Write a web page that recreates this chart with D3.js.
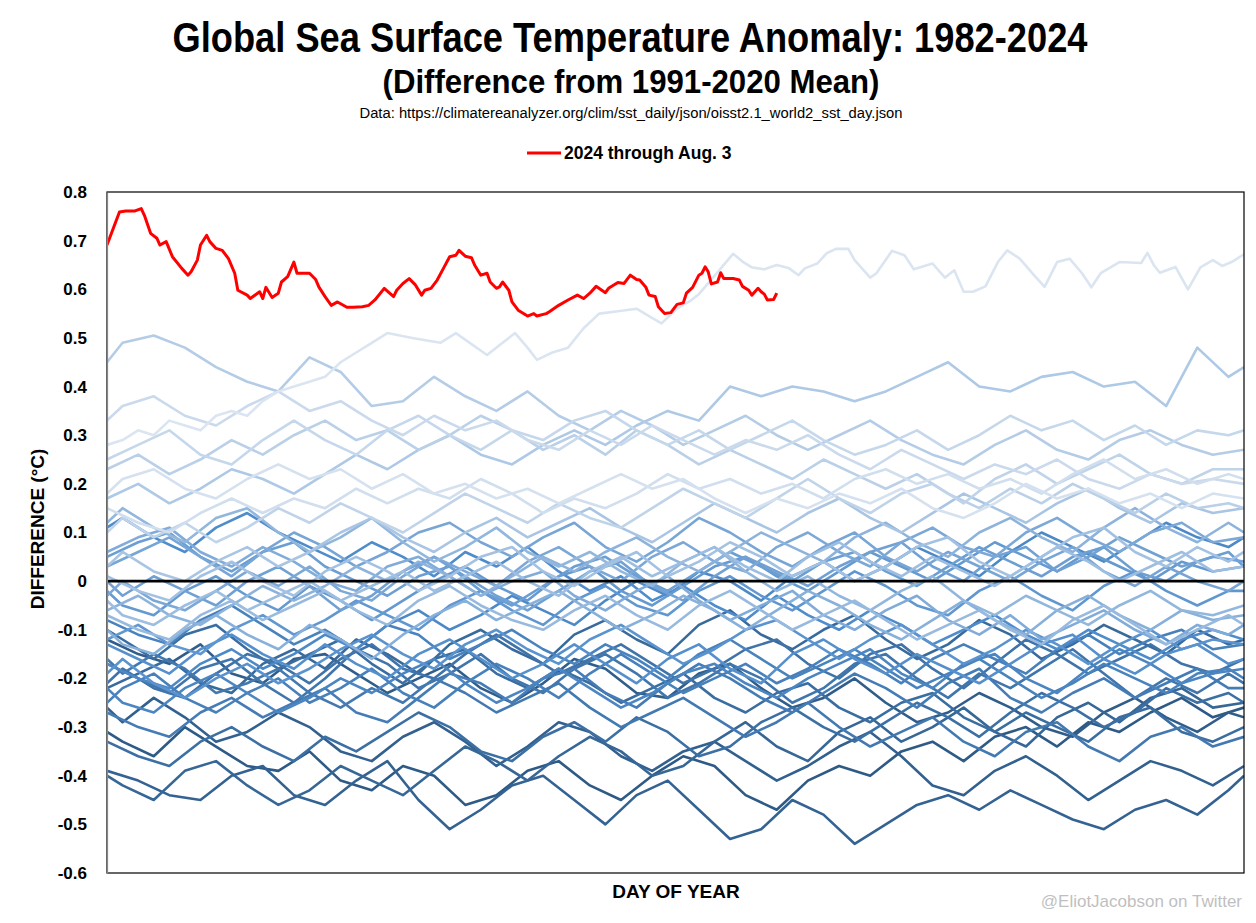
<!DOCTYPE html>
<html>
<head>
<meta charset="utf-8">
<script src="https://cdn.jsdelivr.net/npm/d3@7"></script>
<style>
  body { margin: 0; background: #fff; }
  svg text { font-family: "Liberation Sans", Arial, sans-serif; }
</style>
</head>
<body>
<div id="maindiv"></div>
<script>
// ---------- data ----------
// two day grids, offset by 5 days, so the yearly traces don't all turn on the same days
var daysA = [1,11,21,31,41,51,61,71,81,91,101,111,121,131,141,151,161,171,181,191,201,211,221,231,241,251,261,271,281,291,301,311,321,331,341,351,361,366];
var daysB = [1,6,16,26,36,46,56,66,76,86,96,106,116,126,136,146,156,166,176,186,196,206,216,226,236,246,256,266,276,286,296,306,316,326,336,346,356,366];

var sst1982 = [-0.31,-0.33,-0.36,-0.30,-0.34,-0.38,-0.39,-0.35,-0.41,-0.43,-0.38,-0.40,-0.46,-0.44,-0.39,-0.37,-0.42,-0.45,-0.40,-0.36,-0.38,-0.44,-0.47,-0.41,-0.38,-0.40,-0.35,-0.33,-0.37,-0.32,-0.30,-0.34,-0.29,-0.31,-0.27,-0.24,-0.28,-0.26];
var sst1983 = [-0.12,-0.15,-0.17,-0.13,-0.19,-0.21,-0.16,-0.15,-0.19,-0.23,-0.20,-0.17,-0.22,-0.25,-0.21,-0.16,-0.18,-0.23,-0.24,-0.19,-0.17,-0.22,-0.26,-0.24,-0.20,-0.25,-0.29,-0.27,-0.23,-0.26,-0.30,-0.32,-0.27,-0.24,-0.28,-0.31,-0.27,-0.28];
var sst1984 = [-0.26,-0.29,-0.24,-0.28,-0.33,-0.31,-0.27,-0.30,-0.35,-0.37,-0.32,-0.29,-0.33,-0.38,-0.34,-0.29,-0.31,-0.36,-0.39,-0.35,-0.33,-0.37,-0.41,-0.38,-0.34,-0.31,-0.36,-0.42,-0.44,-0.39,-0.36,-0.40,-0.45,-0.41,-0.37,-0.39,-0.42,-0.38];
var sst1985 = [-0.39,-0.41,-0.44,-0.45,-0.40,-0.38,-0.44,-0.46,-0.41,-0.37,-0.45,-0.51,-0.47,-0.42,-0.40,-0.45,-0.50,-0.44,-0.41,-0.47,-0.53,-0.51,-0.45,-0.48,-0.54,-0.50,-0.46,-0.44,-0.47,-0.43,-0.46,-0.49,-0.51,-0.47,-0.45,-0.48,-0.43,-0.40];
var sst1986 = [-0.40,-0.42,-0.45,-0.39,-0.37,-0.42,-0.46,-0.43,-0.38,-0.41,-0.44,-0.39,-0.34,-0.37,-0.41,-0.36,-0.32,-0.35,-0.40,-0.38,-0.33,-0.29,-0.34,-0.37,-0.31,-0.28,-0.33,-0.30,-0.26,-0.31,-0.34,-0.28,-0.25,-0.29,-0.24,-0.22,-0.26,-0.25];
var sst1987 = [-0.22,-0.19,-0.16,-0.21,-0.23,-0.17,-0.14,-0.18,-0.12,-0.15,-0.19,-0.13,-0.10,-0.14,-0.17,-0.11,-0.08,-0.12,-0.15,-0.09,-0.06,-0.11,-0.14,-0.10,-0.07,-0.12,-0.16,-0.13,-0.08,-0.11,-0.16,-0.13,-0.09,-0.12,-0.15,-0.10,-0.13,-0.12];
var sst1988 = [-0.10,-0.12,-0.16,-0.11,-0.09,-0.14,-0.18,-0.15,-0.12,-0.17,-0.21,-0.16,-0.14,-0.19,-0.22,-0.18,-0.21,-0.25,-0.22,-0.19,-0.24,-0.27,-0.23,-0.21,-0.26,-0.29,-0.25,-0.23,-0.28,-0.31,-0.27,-0.30,-0.33,-0.28,-0.26,-0.31,-0.33,-0.30];
var sst1989 = [-0.33,-0.36,-0.38,-0.33,-0.30,-0.34,-0.37,-0.32,-0.35,-0.31,-0.27,-0.30,-0.35,-0.37,-0.32,-0.29,-0.33,-0.28,-0.31,-0.36,-0.34,-0.29,-0.26,-0.30,-0.33,-0.29,-0.25,-0.28,-0.32,-0.27,-0.23,-0.26,-0.30,-0.27,-0.22,-0.25,-0.23,-0.25];
var sst1990 = [-0.21,-0.18,-0.22,-0.24,-0.19,-0.15,-0.17,-0.21,-0.16,-0.13,-0.18,-0.20,-0.15,-0.11,-0.15,-0.19,-0.16,-0.13,-0.17,-0.21,-0.18,-0.14,-0.12,-0.17,-0.20,-0.15,-0.13,-0.18,-0.22,-0.17,-0.12,-0.15,-0.19,-0.16,-0.13,-0.17,-0.19,-0.16];
var sst1991 = [-0.17,-0.20,-0.23,-0.18,-0.16,-0.21,-0.25,-0.20,-0.14,-0.17,-0.22,-0.19,-0.15,-0.20,-0.23,-0.18,-0.15,-0.19,-0.24,-0.21,-0.17,-0.20,-0.25,-0.22,-0.17,-0.15,-0.20,-0.24,-0.19,-0.22,-0.18,-0.14,-0.19,-0.24,-0.20,-0.23,-0.19,-0.21];
var sst1992 = [-0.16,-0.19,-0.15,-0.18,-0.23,-0.21,-0.18,-0.23,-0.26,-0.22,-0.25,-0.20,-0.23,-0.27,-0.24,-0.21,-0.26,-0.30,-0.27,-0.24,-0.28,-0.32,-0.29,-0.25,-0.30,-0.34,-0.31,-0.28,-0.33,-0.36,-0.31,-0.29,-0.34,-0.37,-0.32,-0.30,-0.34,-0.32];
var sst1993 = [-0.27,-0.30,-0.32,-0.27,-0.24,-0.28,-0.25,-0.22,-0.27,-0.29,-0.24,-0.19,-0.21,-0.25,-0.20,-0.18,-0.23,-0.26,-0.21,-0.17,-0.20,-0.24,-0.27,-0.23,-0.19,-0.22,-0.26,-0.21,-0.18,-0.24,-0.27,-0.23,-0.20,-0.24,-0.21,-0.18,-0.22,-0.22];
var sst1994 = [-0.25,-0.22,-0.19,-0.24,-0.27,-0.23,-0.20,-0.25,-0.22,-0.18,-0.23,-0.26,-0.21,-0.17,-0.20,-0.24,-0.19,-0.15,-0.19,-0.23,-0.20,-0.17,-0.21,-0.18,-0.14,-0.17,-0.21,-0.16,-0.13,-0.16,-0.19,-0.14,-0.11,-0.15,-0.12,-0.10,-0.14,-0.13];
var sst1995 = [-0.08,-0.11,-0.13,-0.08,-0.05,-0.09,-0.13,-0.10,-0.14,-0.09,-0.11,-0.16,-0.13,-0.10,-0.14,-0.17,-0.13,-0.16,-0.20,-0.15,-0.12,-0.16,-0.20,-0.17,-0.14,-0.18,-0.22,-0.19,-0.16,-0.20,-0.24,-0.21,-0.17,-0.20,-0.23,-0.19,-0.18,-0.20];
var sst1996 = [-0.22,-0.25,-0.27,-0.22,-0.19,-0.23,-0.27,-0.24,-0.20,-0.23,-0.19,-0.16,-0.21,-0.25,-0.22,-0.18,-0.22,-0.26,-0.23,-0.19,-0.17,-0.21,-0.24,-0.20,-0.17,-0.14,-0.19,-0.22,-0.17,-0.15,-0.20,-0.23,-0.18,-0.14,-0.17,-0.21,-0.19,-0.18];
var sst1997 = [-0.17,-0.20,-0.22,-0.17,-0.14,-0.18,-0.15,-0.11,-0.14,-0.09,-0.06,-0.10,-0.07,-0.03,-0.06,-0.09,-0.04,0.00,-0.03,0.02,0.00,-0.04,0.01,0.04,0.00,0.03,0.07,0.04,0.01,0.06,0.10,0.07,0.04,0.08,0.12,0.09,0.07,0.09];
var sst1998 = [0.11,0.13,0.09,0.06,0.11,0.14,0.10,0.07,0.04,0.08,0.05,0.01,0.06,0.03,0.07,0.02,-0.02,0.01,-0.04,-0.01,-0.05,-0.08,-0.03,-0.07,-0.10,-0.06,-0.09,-0.13,-0.10,-0.07,-0.11,-0.14,-0.10,-0.13,-0.16,-0.12,-0.10,-0.12];
var sst1999 = [-0.13,-0.16,-0.19,-0.14,-0.11,-0.15,-0.18,-0.13,-0.17,-0.20,-0.15,-0.12,-0.16,-0.20,-0.17,-0.13,-0.17,-0.21,-0.16,-0.13,-0.18,-0.21,-0.15,-0.12,-0.16,-0.19,-0.15,-0.18,-0.21,-0.17,-0.13,-0.11,-0.16,-0.19,-0.15,-0.13,-0.17,-0.16];
var sst2000 = [-0.19,-0.16,-0.21,-0.24,-0.20,-0.17,-0.21,-0.18,-0.14,-0.11,-0.15,-0.18,-0.13,-0.10,-0.14,-0.17,-0.12,-0.09,-0.13,-0.17,-0.14,-0.10,-0.08,-0.12,-0.16,-0.12,-0.09,-0.13,-0.17,-0.14,-0.10,-0.13,-0.17,-0.13,-0.10,-0.14,-0.12,-0.13];
var sst2001 = [-0.12,-0.09,-0.13,-0.15,-0.10,-0.07,-0.11,-0.08,-0.04,-0.07,-0.10,-0.05,-0.02,-0.06,-0.09,-0.04,-0.01,-0.05,-0.07,-0.02,0.01,-0.03,-0.06,-0.02,0.02,-0.01,-0.05,-0.07,-0.02,0.01,-0.03,-0.06,-0.01,0.02,-0.02,-0.05,-0.02,-0.02];
var sst2002 = [-0.02,-0.05,-0.07,-0.02,0.01,-0.03,-0.06,-0.01,-0.04,-0.08,-0.04,0.00,0.03,-0.01,-0.04,0.01,0.03,-0.02,-0.05,-0.01,0.03,0.05,0.01,-0.02,0.02,0.06,0.03,0.00,0.04,0.08,0.05,0.02,0.06,0.03,0.00,0.04,0.02,0.03];
var sst2003 = [0.05,0.08,0.10,0.05,0.02,0.06,0.08,0.03,0.00,-0.03,0.01,0.03,-0.02,-0.05,-0.01,0.03,0.05,0.01,-0.02,0.02,0.06,0.03,0.00,0.04,0.06,0.02,-0.01,0.03,0.07,0.04,0.01,0.05,0.07,0.02,0.00,0.04,0.06,0.03];
var sst2004 = [0.00,-0.03,0.01,-0.02,-0.05,0.00,0.03,-0.01,-0.06,-0.03,0.02,0.05,0.01,-0.03,-0.06,-0.02,0.02,0.04,-0.01,-0.04,0.01,0.05,0.02,-0.01,0.03,0.06,0.08,0.03,0.00,0.05,0.07,0.02,0.05,0.09,0.06,0.03,0.05,0.04];
var sst2005 = [0.03,0.06,0.09,0.05,0.01,0.06,0.10,0.07,0.03,0.06,0.10,0.12,0.08,0.05,0.09,0.12,0.07,0.04,0.08,0.13,0.10,0.06,0.03,0.07,0.10,0.05,0.02,0.06,0.03,0.00,0.04,0.07,0.02,-0.01,0.03,0.00,-0.02,0.00];
var sst2006 = [-0.03,0.00,-0.04,-0.06,-0.02,0.02,-0.01,0.03,-0.02,-0.04,0.01,0.05,0.02,-0.01,0.04,0.07,0.03,0.00,0.05,0.08,0.04,0.02,0.07,0.10,0.06,0.03,0.08,0.11,0.07,0.05,0.10,0.13,0.09,0.06,0.10,0.12,0.08,0.09];
var sst2007 = [0.06,0.09,0.11,0.06,0.03,0.07,0.04,0.00,-0.02,0.03,0.05,0.01,-0.03,0.00,0.02,-0.03,-0.06,-0.02,0.01,-0.04,-0.08,-0.05,-0.02,-0.07,-0.10,-0.06,-0.03,-0.08,-0.11,-0.07,-0.12,-0.09,-0.06,-0.10,-0.13,-0.09,-0.11,-0.09];
var sst2008 = [-0.10,-0.13,-0.15,-0.10,-0.07,-0.11,-0.14,-0.09,-0.12,-0.16,-0.11,-0.07,-0.04,-0.08,-0.05,-0.02,-0.06,-0.10,-0.07,-0.03,-0.06,-0.10,-0.06,-0.02,-0.05,-0.09,-0.12,-0.08,-0.04,-0.08,-0.11,-0.06,-0.03,-0.07,-0.10,-0.06,-0.08,-0.07];
var sst2009 = [-0.06,-0.03,-0.07,-0.09,-0.05,-0.01,-0.04,-0.01,0.03,0.00,0.04,0.01,-0.03,0.01,0.05,0.02,0.06,0.09,0.05,0.02,0.06,0.10,0.07,0.04,0.09,0.12,0.08,0.05,0.10,0.13,0.09,0.06,0.11,0.15,0.11,0.08,0.12,0.10];
var sst2010 = [0.12,0.15,0.11,0.08,0.13,0.15,0.10,0.06,0.09,0.13,0.08,0.04,0.07,0.11,0.06,0.03,0.06,0.02,-0.01,0.04,0.07,0.02,-0.02,0.01,-0.03,-0.06,-0.02,0.01,-0.04,-0.07,-0.03,-0.06,-0.09,-0.05,-0.02,-0.06,-0.07,-0.05];
var sst2011 = [-0.07,-0.10,-0.12,-0.07,-0.04,-0.08,-0.05,-0.02,-0.06,-0.09,-0.04,-0.01,-0.05,-0.08,-0.10,-0.06,-0.03,-0.07,-0.10,-0.05,-0.02,-0.06,-0.10,-0.07,-0.04,-0.08,-0.12,-0.09,-0.06,-0.10,-0.13,-0.08,-0.05,-0.09,-0.13,-0.10,-0.07,-0.09];
var sst2012 = [-0.04,-0.07,-0.09,-0.05,-0.02,-0.06,-0.03,0.00,-0.04,-0.01,0.02,-0.02,0.01,0.04,0.00,-0.03,0.02,0.05,0.01,0.04,0.07,0.03,0.00,0.05,0.08,0.04,0.01,0.05,0.02,-0.01,0.03,0.07,0.04,0.00,0.03,0.06,0.02,0.03];
var sst2013 = [0.01,-0.02,-0.04,0.01,0.04,0.00,-0.03,0.02,0.05,0.02,-0.02,0.01,0.05,0.07,0.02,-0.01,0.03,0.06,0.01,0.04,0.08,0.05,0.01,0.04,0.00,0.03,0.07,0.09,0.04,0.01,0.05,0.09,0.11,0.06,0.03,0.07,0.04,0.06];
var sst2014 = [0.03,0.06,0.02,0.00,0.04,0.07,0.03,0.06,0.10,0.13,0.09,0.06,0.10,0.13,0.09,0.12,0.15,0.11,0.08,0.12,0.16,0.13,0.10,0.14,0.17,0.13,0.10,0.14,0.18,0.15,0.12,0.16,0.19,0.15,0.12,0.16,0.14,0.15];
var sst2015 = [0.17,0.20,0.16,0.19,0.23,0.21,0.18,0.22,0.26,0.23,0.27,0.30,0.26,0.24,0.28,0.31,0.28,0.32,0.35,0.33,0.40,0.38,0.40,0.39,0.37,0.39,0.42,0.45,0.40,0.39,0.42,0.43,0.40,0.41,0.36,0.48,0.42,0.44];
var sst2016 = [0.45,0.49,0.505,0.48,0.44,0.41,0.39,0.46,0.43,0.36,0.37,0.42,0.38,0.35,0.39,0.34,0.31,0.35,0.32,0.28,0.31,0.34,0.30,0.27,0.30,0.33,0.29,0.26,0.24,0.28,0.31,0.27,0.25,0.29,0.31,0.28,0.26,0.27];
var sst2017 = [0.23,0.26,0.22,0.25,0.29,0.26,0.30,0.33,0.29,0.31,0.27,0.30,0.34,0.31,0.27,0.30,0.26,0.31,0.28,0.24,0.27,0.24,0.21,0.25,0.22,0.19,0.22,0.18,0.15,0.19,0.16,0.20,0.17,0.14,0.18,0.15,0.16,0.15];
var sst2018 = [0.10,0.13,0.09,0.12,0.08,0.11,0.15,0.12,0.16,0.13,0.10,0.14,0.18,0.15,0.12,0.16,0.13,0.11,0.15,0.19,0.16,0.13,0.17,0.21,0.17,0.14,0.18,0.20,0.16,0.21,0.24,0.20,0.23,0.26,0.22,0.20,0.23,0.23];
var sst2019 = [0.25,0.28,0.31,0.26,0.24,0.29,0.33,0.29,0.26,0.31,0.34,0.30,0.27,0.31,0.29,0.33,0.35,0.31,0.28,0.31,0.27,0.30,0.33,0.29,0.26,0.28,0.31,0.27,0.30,0.34,0.31,0.33,0.29,0.32,0.28,0.31,0.30,0.31];
var sst2020 = [0.33,0.36,0.38,0.34,0.32,0.36,0.39,0.35,0.37,0.33,0.30,0.34,0.31,0.33,0.29,0.27,0.31,0.28,0.32,0.29,0.26,0.29,0.27,0.30,0.26,0.23,0.27,0.24,0.21,0.24,0.22,0.25,0.21,0.19,0.22,0.20,0.21,0.20];
var sst2021 = [0.15,0.12,0.10,0.14,0.17,0.14,0.17,0.15,0.19,0.16,0.19,0.17,0.21,0.18,0.14,0.17,0.15,0.18,0.22,0.19,0.21,0.18,0.20,0.17,0.21,0.23,0.20,0.22,0.19,0.21,0.18,0.22,0.25,0.21,0.23,0.20,0.22,0.21];
var sst2022 = [0.18,0.21,0.23,0.19,0.17,0.21,0.24,0.21,0.23,0.19,0.22,0.18,0.20,0.17,0.19,0.16,0.19,0.22,0.19,0.21,0.17,0.14,0.17,0.15,0.18,0.16,0.19,0.15,0.13,0.16,0.20,0.17,0.19,0.16,0.18,0.15,0.18,0.17];

// 2023 and 2024 are traced more finely
var days2023 = [1,6,11,16,21,26,31,36,41,46,51,56,61,66,71,76,81,86,91,99,108,113,123,128,132,136,139,144,149,154,159,165,171,175,179,184,188,191,195,199,202,205,208,212,216,220,223,225,229,232,235,239,241,246,248,253,257,260,266,270,273,276,279,283,287,290,294,299,302,306,310,314,317,320,326,333,335,337,339,344,348,352,356,359,362,366];
var sst2023 = [0.28,0.29,0.31,0.30,0.33,0.32,0.31,0.34,0.35,0.34,0.37,0.39,0.40,0.41,0.42,0.45,0.47,0.49,0.51,0.50,0.49,0.51,0.465,0.49,0.51,0.48,0.455,0.47,0.48,0.52,0.55,0.555,0.56,0.545,0.53,0.56,0.575,0.59,0.62,0.65,0.673,0.657,0.645,0.641,0.650,0.643,0.629,0.643,0.653,0.674,0.683,0.683,0.660,0.624,0.633,0.679,0.670,0.641,0.653,0.624,0.639,0.595,0.595,0.606,0.656,0.680,0.663,0.626,0.605,0.656,0.663,0.633,0.604,0.633,0.656,0.654,0.675,0.650,0.634,0.646,0.600,0.645,0.660,0.648,0.656,0.672];

var days2024 = [1,5,7,10,12,13,15,17,18,20,22,25,27,28,30,31,33,34,36,38,40,42,43,46,47,50,51,52,54,56,57,59,61,62,66,68,69,71,73,75,78,80,83,85,87,90,93,94,96,98,100,102,103,105,107,109,111,113,114,116,118,119,121,123,124,126,127,128,130,131,133,136,138,139,142,143,146,149,152,154,156,158,161,162,165,167,169,171,172,174,175,177,178,180,182,184,186,187,189,191,192,193,194,195,197,198,199,201,202,204,205,207,208,210,211,212,213,215,216];
var sst2024 = [0.691,0.759,0.761,0.761,0.766,0.752,0.715,0.705,0.691,0.698,0.667,0.643,0.629,0.636,0.660,0.691,0.711,0.698,0.684,0.680,0.663,0.633,0.598,0.588,0.581,0.595,0.581,0.604,0.583,0.592,0.615,0.626,0.656,0.633,0.633,0.620,0.605,0.585,0.567,0.574,0.563,0.563,0.564,0.567,0.578,0.602,0.585,0.598,0.612,0.622,0.609,0.588,0.598,0.602,0.619,0.643,0.667,0.670,0.680,0.668,0.665,0.650,0.629,0.633,0.615,0.602,0.605,0.615,0.598,0.574,0.557,0.545,0.550,0.545,0.550,0.554,0.567,0.578,0.588,0.581,0.592,0.606,0.593,0.602,0.614,0.612,0.629,0.620,0.619,0.604,0.588,0.585,0.564,0.550,0.552,0.569,0.572,0.592,0.604,0.629,0.633,0.646,0.636,0.611,0.615,0.634,0.622,0.622,0.622,0.619,0.606,0.598,0.588,0.602,0.595,0.590,0.578,0.579,0.592];

var yTickValues = [0.8,0.7,0.6,0.5,0.4,0.3,0.2,0.1,0,-0.1,-0.2,-0.3,-0.4,-0.5,-0.6];
var yTickLabels = ["0.8","0.7","0.6","0.5","0.4","0.3","0.2","0.1","0","-0.1","-0.2","-0.3","-0.4","-0.5","-0.6"];

var pastYears = [
    [1982, daysB, sst1982], [1983, daysA, sst1983], [1984, daysB, sst1984], [1985, daysA, sst1985],
    [1986, daysB, sst1986], [1987, daysA, sst1987], [1988, daysB, sst1988], [1989, daysA, sst1989],
    [1990, daysB, sst1990], [1991, daysA, sst1991], [1992, daysB, sst1992], [1993, daysA, sst1993],
    [1994, daysB, sst1994], [1995, daysA, sst1995], [1996, daysB, sst1996], [1997, daysA, sst1997],
    [1998, daysB, sst1998], [1999, daysA, sst1999], [2000, daysB, sst2000], [2001, daysA, sst2001],
    [2002, daysB, sst2002], [2003, daysA, sst2003], [2004, daysB, sst2004], [2005, daysA, sst2005],
    [2006, daysB, sst2006], [2007, daysA, sst2007], [2008, daysB, sst2008], [2009, daysA, sst2009],
    [2010, daysB, sst2010], [2011, daysA, sst2011], [2012, daysB, sst2012], [2013, daysA, sst2013],
    [2014, daysB, sst2014], [2015, daysA, sst2015], [2016, daysB, sst2016], [2017, daysA, sst2017],
    [2018, daysB, sst2018], [2019, daysA, sst2019], [2020, daysB, sst2020], [2021, daysA, sst2021],
    [2022, daysB, sst2022], [2023, days2023, sst2023]
];

// ---------- chart ----------
var width = 1256;
var height = 923;
var plot = { left: 107, right: 1244, top: 192, bottom: 873 };

var svg = d3.select("#maindiv")
    .append("svg")
    .attr("width", width)
    .attr("height", height);

var x = d3.scaleLinear().domain([1, 366]).range([plot.left, plot.right]);
var y = d3.scaleLinear().domain([-0.6, 0.8]).range([plot.bottom, plot.top]);

var color = d3.scaleLinear()
    .domain([1982, 1998, 2023])
    .range(["#2e5a86", "#4f8ccb", "#dbe5f1"]);

svg.append("clipPath").attr("id", "plotclip")
    .append("rect")
    .attr("x", plot.left).attr("y", plot.top)
    .attr("width", plot.right - plot.left).attr("height", plot.bottom - plot.top);

var lines = svg.append("g").attr("clip-path", "url(#plotclip)");

function lineFor(dayArr) {
    return d3.line()
        .x(function (d, i) { return x(dayArr[i]); })
        .y(function (d) { return y(d); });
}

lines.selectAll("path.past")
    .data(pastYears)
    .enter()
    .append("path")
    .attr("class", "past")
    .attr("fill", "none")
    .attr("stroke", function (d) { return color(d[0]); })
    .attr("stroke-width", 2.6)
    .attr("stroke-linejoin", "round")
    .attr("d", function (d) { return lineFor(d[1])(d[2]); });

// zero line
svg.append("line")
    .attr("x1", plot.left).attr("x2", plot.right)
    .attr("y1", y(0)).attr("y2", y(0))
    .attr("stroke", "#000")
    .attr("stroke-width", 2.6);

lines.append("path")
    .attr("fill", "none")
    .attr("stroke", "#ff0000")
    .attr("stroke-width", 3)
    .attr("stroke-linejoin", "round")
    .attr("d", lineFor(days2024)(sst2024));

// plot frame
svg.append("rect")
    .attr("x", plot.left).attr("y", plot.top)
    .attr("width", plot.right - plot.left).attr("height", plot.bottom - plot.top)
    .attr("fill", "none")
    .attr("stroke", "#000")
    .attr("stroke-width", 1.2);

// y axis
var yAxis = svg.append("g")
    .attr("transform", "translate(" + plot.left + ",0)")
    .call(d3.axisLeft(y)
        .tickValues(yTickValues)
        .tickSize(0)
        .tickPadding(20)
        .tickFormat(function (d, i) { return yTickLabels[i]; }));
yAxis.select(".domain").attr("stroke", "#868686").attr("stroke-width", 1.2);
yAxis.selectAll("text")
    .attr("font-family", "Liberation Sans, Arial, sans-serif")
    .attr("font-weight", "bold")
    .attr("font-size", "17px")
    .attr("fill", "#000");

// titles (squeezed to the width of the original's narrow face)
svg.append("text")
    .attr("x", 630).attr("y", 52)
    .attr("text-anchor", "middle")
    .attr("font-weight", "bold")
    .attr("font-size", "42px")
    .attr("textLength", 915)
    .attr("lengthAdjust", "spacingAndGlyphs")
    .text("Global Sea Surface Temperature Anomaly: 1982-2024");

svg.append("text")
    .attr("x", 631).attr("y", 93)
    .attr("text-anchor", "middle")
    .attr("font-weight", "bold")
    .attr("font-size", "33px")
    .attr("textLength", 497)
    .attr("lengthAdjust", "spacingAndGlyphs")
    .text("(Difference from 1991-2020 Mean)");

svg.append("text")
    .attr("x", 631).attr("y", 118)
    .attr("text-anchor", "middle")
    .attr("font-size", "14px")
    .attr("textLength", 543)
    .attr("lengthAdjust", "spacingAndGlyphs")
    .text("Data: https://climatereanalyzer.org/clim/sst_daily/json/oisst2.1_world2_sst_day.json");

// legend
svg.append("line")
    .attr("x1", 527).attr("x2", 561)
    .attr("y1", 153).attr("y2", 153)
    .attr("stroke", "#ff0000")
    .attr("stroke-width", 3);
svg.append("text")
    .attr("x", 564).attr("y", 159)
    .attr("font-weight", "bold")
    .attr("font-size", "17.5px")
    .text("2024 through Aug. 3");

// axis titles
svg.append("text")
    .attr("transform", "translate(44,529) rotate(-90)")
    .attr("text-anchor", "middle")
    .attr("font-weight", "bold")
    .attr("font-size", "19px")
    .text("DIFFERENCE (°C)");

svg.append("text")
    .attr("x", 676).attr("y", 898)
    .attr("text-anchor", "middle")
    .attr("font-weight", "bold")
    .attr("font-size", "19px")
    .text("DAY OF YEAR");

svg.append("text")
    .attr("x", 1242).attr("y", 907)
    .attr("text-anchor", "end")
    .attr("font-size", "17px")
    .attr("fill", "#bfbfbf")
    .text("@EliotJacobson on Twitter");
</script>
</body>
</html>
